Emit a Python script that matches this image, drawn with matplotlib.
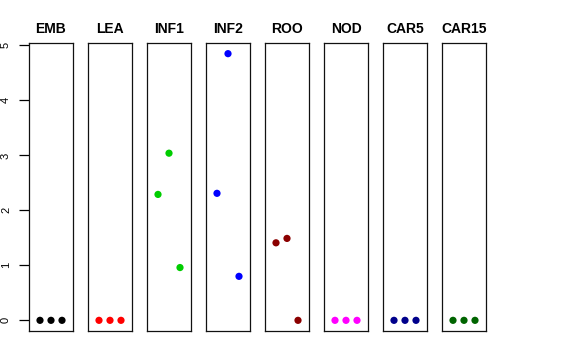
import matplotlib
matplotlib.use("Agg")
import matplotlib.pyplot as plt

panels = ["EMB", "LEA", "INF1", "INF2", "ROO", "NOD", "CAR5", "CAR15"]
colors = ["#000000", "#FF0000", "#00CD00", "#0000FF", "#8B0000", "#FF00FF", "#00008B", "#006400"]
x_pos = [1, 2, 3]
values = {
    "EMB": [0, 0, 0],
    "LEA": [0, 0, 0],
    "INF1": [2.29, 3.04, 0.96],
    "INF2": [2.31, 4.85, 0.80],
    "ROO": [1.41, 1.49, 0.0],
    "NOD": [0, 0, 0],
    "CAR5": [0, 0, 0],
    "CAR15": [0, 0, 0],
}
yticks = [0, 1, 2, 3, 4, 5]

plt.rcParams['font.family'] = ['Liberation Sans', 'DejaVu Sans']
fig = plt.figure(figsize=(5.76, 3.6), dpi=100)
W, H = 576, 360
left0, step, pw = 29, 59, 44
top, bottom = 43, 331
ymin, ymax = -0.194, 5.044

for i, name in enumerate(panels):
    l = left0 + i * step
    ax = fig.add_axes([l / W, 1 - bottom / H, pw / W, (bottom - top) / H])
    ax.scatter(x_pos, values[name], s=27, color=colors[i], edgecolors='none', zorder=3)
    ax.set_xlim(0, 4)
    ax.set_ylim(ymin, ymax)
    ax.set_xticks([])
    for sp in ax.spines.values():
        sp.set_linewidth(0.9)
        sp.set_color("#111111")
    ax.set_title(name, fontsize=10, fontweight='bold', pad=7)
    if i == 0:
        ax.set_yticks(yticks)
        ax.set_yticklabels([str(t) for t in yticks], rotation=90, va='center', fontsize=8)
        ax.tick_params(axis='y', length=7, width=0.9, pad=6)
    else:
        ax.set_yticks([])

fig.savefig("out.png", dpi=100)
